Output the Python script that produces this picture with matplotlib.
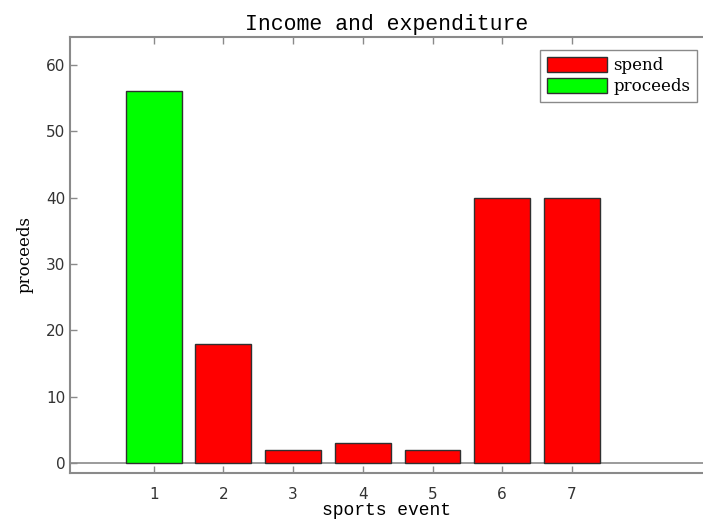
import numpy as np
from matplotlib import pyplot as plt
from matplotlib.patches import Patch

events = [1, 2, 3, 4, 5, 6, 7]
amounts = [56, 18, 2, 3, 2, 40, 40]
kinds = ['proceeds', 'spend', 'spend', 'spend', 'spend', 'spend', 'spend']
y_ticks = [0, 10, 20, 30, 40, 50, 60]

colors = {'spend': '#ff0000', 'proceeds': '#00ff00'}
axis_gray = '#8a8a8a'

fig = plt.figure(figsize=(7.03, 5.22), dpi=100)
ax = fig.add_axes([0.0996, 0.094, 0.9004, 0.835])

ax.bar(events, amounts, width=0.8, color=[colors[k] for k in kinds],
       edgecolor='#303030', linewidth=1.0, zorder=3)
ax.axhline(0, color=axis_gray, linewidth=1.2, zorder=2)

ax.set_xlim(-0.2, 8.88)
ax.set_ylim(-1.5, 64.2)
ax.set_xticks(events)
ax.set_yticks(y_ticks)

for side in ['left', 'bottom', 'top']:
    ax.spines[side].set_color(axis_gray)
    ax.spines[side].set_linewidth(1.5)
ax.spines['right'].set_visible(False)

ax.tick_params(direction='in', length=5, width=1, color=axis_gray,
               labelsize=11, labelcolor='#333333', top=True, right=False)
ax.tick_params(axis='x', pad=10)

ax.set_title('Income and expenditure', fontfamily='Liberation Mono',
             fontsize=15.5, pad=5)
ax.set_xlabel('sports event', fontfamily='Liberation Mono', fontsize=13,
              labelpad=0)
ax.set_ylabel('proceeds', fontfamily='DejaVu Serif', fontsize=12,
              labelpad=9)

handles = [Patch(facecolor=colors['spend'], edgecolor='#303030', label='spend'),
           Patch(facecolor=colors['proceeds'], edgecolor='#303030', label='proceeds')]
leg = ax.legend(handles=handles, loc='upper right', bbox_to_anchor=(0.9905, 0.970),
                borderaxespad=0, prop={'family': 'DejaVu Serif', 'size': 12},
                handlelength=3.6, handleheight=1.0, handletextpad=0.4,
                labelspacing=0.25, borderpad=0.4, fancybox=False,
                edgecolor=axis_gray, framealpha=1)
leg.get_frame().set_linewidth(1.0)

fig.savefig('out.png', dpi=100)
